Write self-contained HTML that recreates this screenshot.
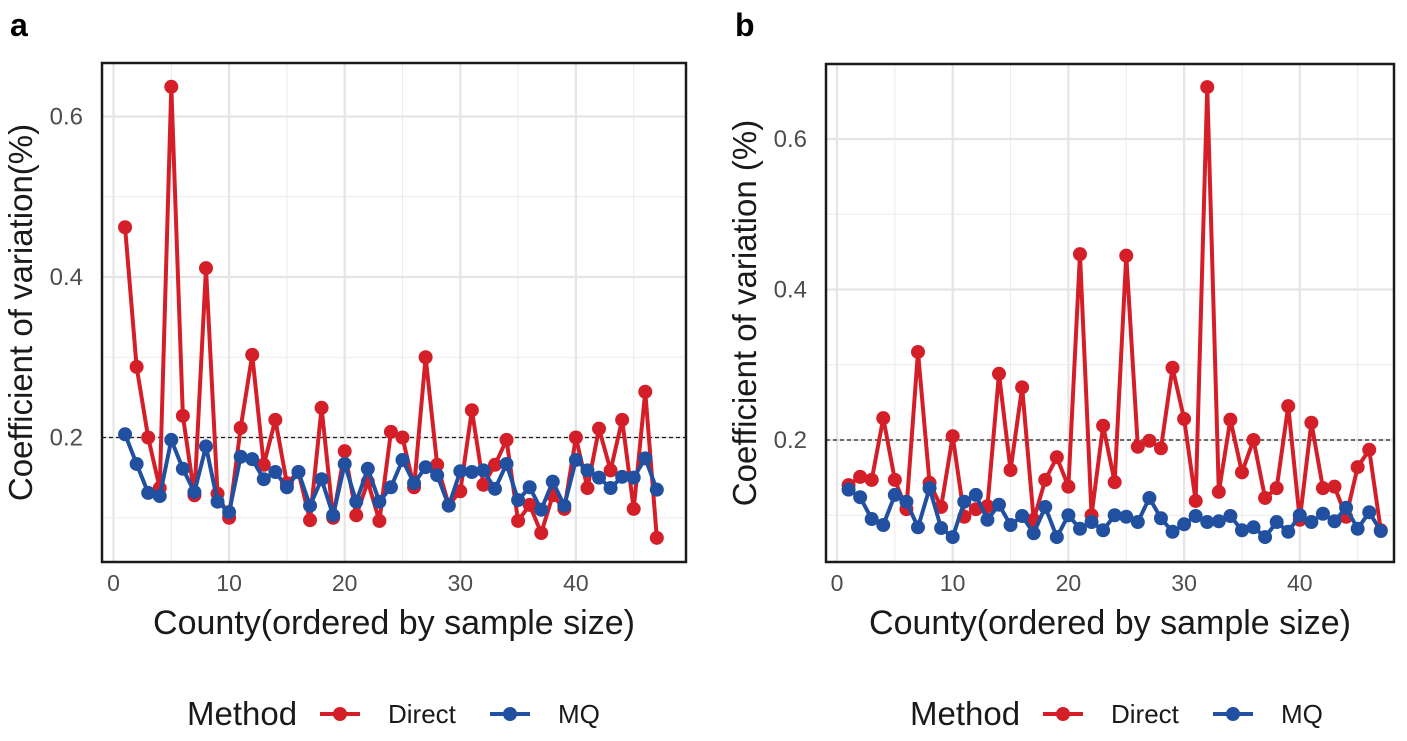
<!DOCTYPE html>
<html><head><meta charset="utf-8"><style>
body{margin:0;background:#fff;width:1407px;height:736px;overflow:hidden;font-family:"Liberation Sans",sans-serif}
</style></head><body>
<svg id="svg" width="1407" height="736" xmlns="http://www.w3.org/2000/svg" font-family="Liberation Sans, sans-serif"></svg>
<script>
const counties = Array.from({length:47},(_,i)=>i+1);
const directA = [0.462,0.288,0.200,0.137,0.637,0.227,0.128,0.411,0.130,0.100,0.212,0.303,0.166,0.222,0.143,0.157,0.097,0.237,0.100,0.183,0.103,0.145,0.096,0.207,0.200,0.138,0.300,0.166,0.116,0.133,0.234,0.141,0.166,0.197,0.096,0.116,0.081,0.128,0.111,0.200,0.137,0.211,0.159,0.222,0.111,0.257,0.075];
const mqA = [0.204,0.167,0.131,0.127,0.197,0.161,0.132,0.189,0.120,0.107,0.176,0.173,0.148,0.157,0.138,0.157,0.115,0.148,0.103,0.167,0.120,0.161,0.120,0.138,0.172,0.143,0.163,0.153,0.115,0.158,0.157,0.159,0.136,0.167,0.122,0.138,0.110,0.145,0.115,0.172,0.159,0.150,0.137,0.151,0.150,0.174,0.135];
const directB = [0.140,0.151,0.147,0.229,0.147,0.108,0.317,0.143,0.111,0.205,0.098,0.108,0.112,0.288,0.160,0.270,0.094,0.147,0.177,0.138,0.447,0.100,0.219,0.144,0.445,0.191,0.199,0.189,0.296,0.228,0.119,0.669,0.131,0.227,0.157,0.200,0.123,0.136,0.245,0.094,0.223,0.136,0.138,0.098,0.164,0.187,0.080];
const mqB = [0.134,0.124,0.095,0.087,0.127,0.118,0.084,0.136,0.083,0.071,0.118,0.127,0.094,0.114,0.087,0.099,0.076,0.111,0.071,0.100,0.082,0.091,0.080,0.100,0.098,0.091,0.123,0.096,0.078,0.088,0.099,0.091,0.092,0.099,0.080,0.084,0.071,0.091,0.078,0.100,0.091,0.102,0.092,0.110,0.082,0.104,0.079];
const xTicks = [0,10,20,30,40];
const yTicks = [0.2,0.4,0.6];
const RED="#d41f29", BLUE="#2250a0";
const svg=document.getElementById('svg');
const NS="http://www.w3.org/2000/svg";
function mk(t,a,p){const e=document.createElementNS(NS,t);for(const k in a)e.setAttribute(k,a[k]);(p||svg).appendChild(e);return e;}

function panel(cfg){
  const g=mk('g',{});
  
  
  const X=v=>cfg.x0+v*cfg.xs, Y=v=>cfg.y0-v*cfg.ys;
  for(let v=5;v<=45;v+=10){mk('line',{x1:X(v),x2:X(v),y1:cfg.top,y2:cfg.bot,stroke:'#ebebeb','stroke-width':1},g);}
  for(let v=0.1;v<=0.71;v+=0.2){const y=Y(v);if(y>cfg.top&&y<cfg.bot)mk('line',{x1:cfg.left,x2:cfg.right,y1:y,y2:y,stroke:'#ebebeb','stroke-width':1},g);}
  xTicks.forEach(v=>{mk('line',{x1:X(v),x2:X(v),y1:cfg.top,y2:cfg.bot,stroke:'#e5e5e5','stroke-width':2.2},g);
    const t=mk('text',{x:X(v),y:cfg.bot+29,'text-anchor':'middle','font-size':23,fill:'#4d4d4d'},g);t.textContent=v;
    });
  yTicks.forEach(v=>{const y=Y(v);mk('line',{x1:cfg.left,x2:cfg.right,y1:y,y2:y,stroke:'#e5e5e5','stroke-width':2.2},g);
    const t=mk('text',{x:cfg.left-19,y:y+8,'text-anchor':'end','font-size':24,fill:'#4d4d4d'},g);t.textContent=v.toFixed(1);
    });
  const ref=mk('line',{x1:cfg.left,x2:cfg.right,y1:Y(0.2),y2:Y(0.2),stroke:'#222','stroke-width':1.3,'stroke-dasharray':'4,3'},g);
  
  [[cfg.red,RED,'direct-series'],[cfg.blue,BLUE,'mq-series']].forEach(([d,c,n])=>{
    const s=mk('g',{},g);
    mk('polyline',{points:d.map((v,i)=>X(counties[i])+','+Y(v)).join(' '),fill:'none',stroke:c,'stroke-width':4,'stroke-linejoin':'round'},s);
    d.forEach((v,i)=>{const p=mk('circle',{cx:X(counties[i]),cy:Y(v),r:7,fill:c},s);
      });
  });
  const b=mk('rect',{x:cfg.left,y:cfg.top,width:cfg.right-cfg.left,height:cfg.bot-cfg.top,fill:'none',stroke:'#1a1a1a','stroke-width':2.5},g);
  
  let t=mk('text',{x:(cfg.left+cfg.right)/2,y:634,'text-anchor':'middle','font-size':34,fill:'#1a1a1a'},g);t.textContent='County(ordered by sample size)';
  
  const cy=(cfg.top+cfg.bot)/2;
  t=mk('text',{x:0,y:0,'text-anchor':'middle','font-size':33,fill:'#1a1a1a',transform:`translate(${cfg.left-70},${cy}) rotate(-90)`},g);t.textContent=cfg.ytitle;
  
  t=mk('text',{x:cfg.tagx,y:36,'font-size':32,'font-weight':'bold',fill:'#000'},g);t.textContent=cfg.tag;
  
  const L=mk('g',{},g);
  t=mk('text',{x:cfg.lx,y:725,'font-size':33,fill:'#1a1a1a'},L);t.textContent='Method';
  [[RED,'Direct',cfg.lx+133],[BLUE,'MQ',cfg.lx+303]].forEach(([c,n,x])=>{
    const e=mk('g',{},L);
    mk('line',{x1:x,x2:x+40,y1:714,y2:714,stroke:c,'stroke-width':4},e);
    mk('circle',{cx:x+20,cy:714,r:7,fill:c},e);
    const tt=mk('text',{x:x+68,y:723,'font-size':26,fill:'#1a1a1a'},e);tt.textContent=n;
  });
}
panel({name:'panel-a',left:102,right:686,top:63,bot:562,x0:113.5,xs:11.56,y0:598,ys:802.5,red:directA,blue:mqA,ytitle:'Coefficient of variation(%)',tag:'a',tagx:10,lx:187});
panel({name:'panel-b',left:826,right:1394,top:64,bot:562,x0:837,xs:11.57,y0:590.5,ys:752.5,red:directB,blue:mqB,ytitle:'Coefficient of variation (%)',tag:'b',tagx:735,lx:910});
</script>
</body></html>
